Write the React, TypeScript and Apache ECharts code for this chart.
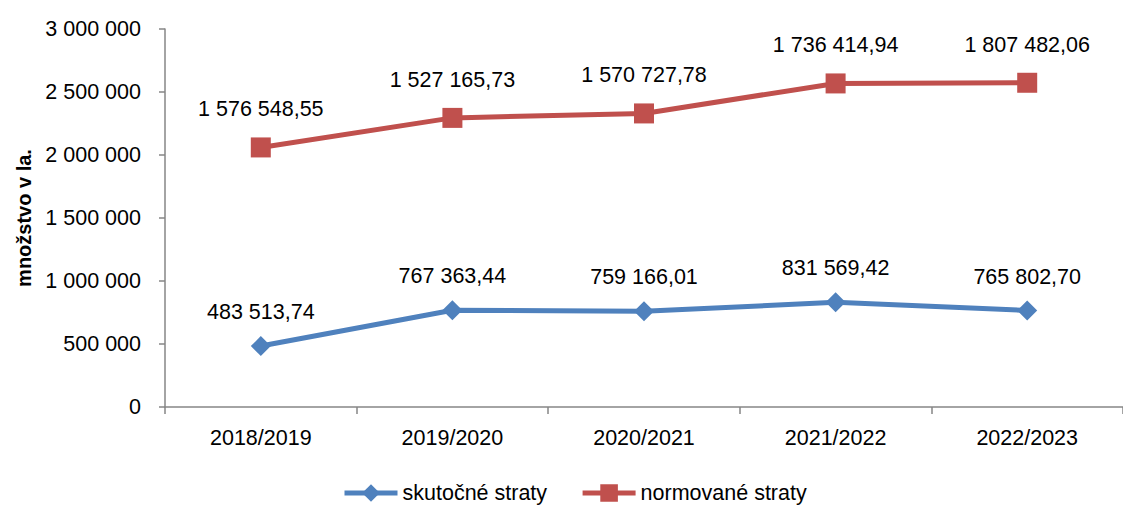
import React, { useEffect, useRef } from "react";
import * as echarts from "echarts";

const categories = ["2018/2019", "2019/2020", "2020/2021", "2021/2022", "2022/2023"];
const skutocne = [483513.74, 767363.44, 759166.01, 831569.42, 765802.7];
const normovane = [1576548.55, 1527165.73, 1570727.78, 1736414.94, 1807482.06];
const yTicks = { min: 0, max: 3000000, interval: 500000 };
const seriesNames = ["skutočné straty", "normované straty"];
const axisTitle = "množstvo v la.";

const groupThousands = (s: string) => s.replace(/\B(?=(\d{3})+(?!\d))/g, " ");
const fmtInt = (v: number) => groupThousands(String(Math.round(v)));
const fmtDec = (v: number) => {
  const [i, d] = v.toFixed(2).split(".");
  return groupThousands(i) + "," + d;
};

const FONT = "'Liberation Sans', Arial, sans-serif";
const FS = 21.5;

export default function App() {
  const ref = useRef<HTMLDivElement>(null);
  useEffect(() => {
    if (!ref.current) return;
    const chart = echarts.init(ref.current, undefined, { renderer: "svg" });
    const axisColor = "#868686";
    chart.setOption({
      animation: false,
      textStyle: { fontFamily: FONT, color: "#000" },
      grid: { left: 165, top: 29, bottom: 98, right: -9, containLabel: false },
      legend: {
        left: 337,
        top: 477,
        itemWidth: 53,
        itemHeight: 22,
        itemGap: 33,
        lineStyle: { width: 5 },
        textStyle: { fontSize: FS, color: "#000", fontFamily: FONT },
        data: seriesNames,
      },
      xAxis: {
        type: "category",
        data: categories,
        boundaryGap: true,
        axisLine: { lineStyle: { color: axisColor, width: 1.5 } },
        axisTick: { show: true, length: 7, alignWithLabel: false, lineStyle: { color: axisColor, width: 1.5 } },
        axisLabel: { fontSize: FS, color: "#000", margin: 20, fontFamily: FONT },
        splitLine: { show: false },
      },
      yAxis: {
        type: "value",
        min: yTicks.min,
        max: yTicks.max,
        interval: yTicks.interval,
        name: axisTitle,
        nameLocation: "middle",
        nameGap: 128,
        nameTextStyle: { fontSize: 20, fontWeight: "bold", color: "#000", fontFamily: FONT },
        axisLine: { show: true, lineStyle: { color: axisColor, width: 1.5 } },
        axisTick: { show: true, length: 6, lineStyle: { color: axisColor, width: 1.5 } },
        axisLabel: { fontSize: FS, color: "#000", margin: 24, fontFamily: FONT, formatter: (v: number) => fmtInt(v) },
        splitLine: { show: false },
      },
      series: [
        {
          name: seriesNames[0],
          type: "line",
          stack: "total",
          data: skutocne,
          symbol: "diamond",
          symbolSize: 20,
          lineStyle: { color: "#4F81BD", width: 5 },
          itemStyle: { color: "#4F81BD" },
          label: {
            show: true,
            position: "top",
            distance: 13,
            fontSize: FS,
            color: "#000",
            fontFamily: FONT,
            formatter: (p: any) => fmtDec(p.value),
          },
        },
        {
          name: seriesNames[1],
          type: "line",
          stack: "total",
          data: normovane,
          symbol: "rect",
          symbolSize: 20,
          lineStyle: { color: "#C0504D", width: 5 },
          itemStyle: { color: "#C0504D" },
          label: {
            show: true,
            position: "top",
            distance: 17,
            fontSize: FS,
            color: "#000",
            fontFamily: FONT,
            formatter: (p: any) => fmtDec(p.value),
          },
        },
      ],
    });
    return () => chart.dispose();
  }, []);
  return (
    <div
      ref={ref}
      style={{ position: "absolute", left: 0, top: 0, width: 1123, height: 505 }}
    />
  );
}
